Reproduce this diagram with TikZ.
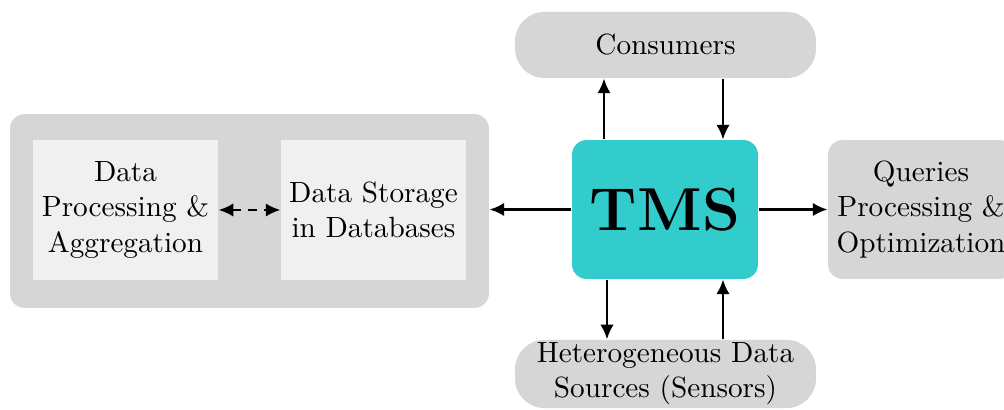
\documentclass[tikz,border=0pt]{standalone}
\usetikzlibrary{arrows.meta}
\definecolor{boxgray}{HTML}{D6D6D6}
\definecolor{boxlight}{HTML}{F0F0F0}
\definecolor{tmsteal}{HTML}{33CCCC}
\begin{document}
\begin{tikzpicture}[x=0.342pt,y=-0.342pt,
  graybox/.style={fill=boxgray,draw=none,align=center,inner sep=0pt},
  lightbox/.style={fill=boxlight,draw=none,align=center,inner sep=0pt,minimum width=63.3pt,minimum height=47.9pt},
  conn/.style={line width=0.8pt,-{Latex[length=5pt,width=4.6pt]}},
  dconn/.style={line width=0.8pt,dashed,dash pattern=on 3pt off 2.5pt,{Latex[length=5pt,width=4.6pt]}-{Latex[length=5pt,width=4.6pt]}}]
\useasboundingbox (0,0) rectangle (1004,410);
\clip (0,0) rectangle (1004,410);
\node[graybox,rounded corners=5pt,minimum width=163.8pt,minimum height=66.3pt] (outer) at (249.5,211) {};
\node[lightbox] (proc) at (125.5,210) {Data\\Processing \&\\Aggregation};
\node[lightbox] (store) at (373.5,210) {Data Storage\\in Databases};
\node[fill=tmsteal,draw=none,rounded corners=5pt,minimum width=63.6pt,minimum height=47.5pt,inner sep=0pt,font=\huge\bfseries] (tms) at (665,209.5) {TMS};
\node[graybox,rounded corners=10pt,minimum width=102.9pt,minimum height=22.6pt] (cons) at (665.5,45) {Consumers};
\node[graybox,rounded corners=10pt,minimum width=102.9pt,minimum height=23.3pt] (src) at (665.5,374) {Heterogeneous Data\\Sources (Sensors)};
\node[graybox,rounded corners=5pt,minimum width=63.6pt,minimum height=47.5pt] (query) at (921,209.5) {Queries\\Processing \&\\Optimization};
\coordinate (xa) at (604,0);
\coordinate (xb) at (723,0);
\coordinate (xc) at (607,0);
\draw[conn] (tms.north -| xa) -- (cons.south -| xa);
\draw[conn] (cons.south -| xb) -- (tms.north -| xb);
\draw[conn] (tms.south -| xc) -- (src.north -| xc);
\draw[conn] (src.north -| xb) -- (tms.south -| xb);
\draw[conn] (tms.west) -- (tms.west -| outer.east);
\draw[conn] (tms.east) -- (query.west);
\draw[dconn] (proc.east) -- (store.west);
\end{tikzpicture}
\end{document}
